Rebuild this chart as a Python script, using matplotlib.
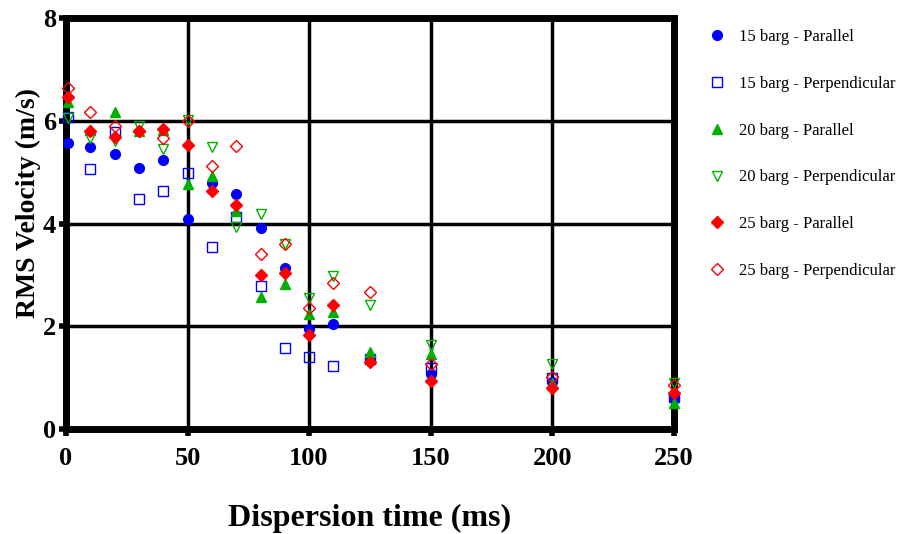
import matplotlib.pyplot as plt

plt.rcParams['font.family'] = ['Liberation Serif', 'DejaVu Serif']

time_ms = [1, 10, 20, 30, 40, 50, 60, 70, 80, 90, 100, 110, 125, 150, 200, 250]

b15_par = [5.57, 5.49, 5.35, 5.09, 5.23, 4.09, 4.79, 4.58, 3.92, 3.13, 1.94, 2.04, 1.35, 1.08, 0.92, 0.60]
b15_perp = [6.07, 5.07, 5.79, 4.47, 4.63, 4.99, 3.55, 4.13, 2.79, 1.58, 1.41, 1.23, 1.36, 1.18, 1.00, 0.62]
b20_par = [6.36, 5.82, 6.18, 5.80, 5.82, 4.77, 4.92, 4.25, 2.57, 2.83, 2.24, 2.28, 1.49, 1.47, 0.89, 0.50]
b20_perp = [6.05, 5.67, 5.60, 5.89, 5.46, 6.02, 5.50, 3.93, 4.19, 3.61, 2.56, 2.98, 2.41, 1.63, 1.27, 0.90]
b25_par = [6.47, 5.80, 5.69, 5.80, 5.84, 5.52, 4.64, 4.37, 3.00, 3.04, 1.83, 2.41, 1.31, 0.93, 0.79, 0.70]
b25_perp = [6.64, 6.18, 5.89, 5.80, 5.67, 5.99, 5.12, 5.51, 3.41, 3.60, 2.35, 2.85, 2.66, 1.26, 1.01, 0.85]

blue = '#0000FF'
green = '#00B000'
red = '#FF0000'

fig = plt.figure(figsize=(9.13, 5.34), dpi=100)
ax = fig.add_axes([0.0723, 0.1966, 0.6657, 0.7695])

kw = dict(linestyle='none', clip_on=False, zorder=3)
ax.plot(time_ms, b15_par, marker='o', ms=7, color=blue, label='15 barg - Parallel', **kw)
ax.plot(time_ms, b15_perp, marker='s', ms=7, mfc='none', mec=blue, mew=1, label='15 barg - Perpendicular', **kw)
ax.plot(time_ms, b20_par, marker='^', ms=7.5, color=green, label='20 barg - Parallel', **kw)
ax.plot(time_ms, b20_perp, marker='v', ms=7.5, mfc='none', mec=green, mew=1, label='20 barg - Perpendicular', **kw)
ax.plot(time_ms, b25_par, marker='D', ms=6, color=red, label='25 barg - Parallel', **kw)
ax.plot(time_ms, b25_perp, marker='D', ms=6, mfc='none', mec=red, mew=1, label='25 barg - Perpendicular', **kw)

ax.set_xlim(0, 250)
ax.set_ylim(0, 8)
ax.set_xticks([0, 50, 100, 150, 200, 250])
ax.set_yticks([0, 2, 4, 6, 8])
ax.grid(True, color='black', linewidth=2.5)
ax.set_axisbelow(True)
for s in ax.spines.values():
    s.set_linewidth(5)
ax.tick_params(width=4, length=5, labelsize=19)
ax.tick_params(axis='x', pad=8)
ax.tick_params(axis='y', pad=2)
for lbl in ax.get_xticklabels() + ax.get_yticklabels():
    lbl.set_fontweight('bold')

ax.set_xlabel('Dispersion time (ms)', fontsize=23, fontweight='bold')
ax.xaxis.set_label_coords(0.5, -0.2165)
ax.xaxis.label.set_verticalalignment('center')
ax.set_ylabel('RMS Velocity (m/s)', fontsize=20, fontweight='bold')
ax.yaxis.set_label_coords(-0.0625, 0.55)
ax.yaxis.label.set_verticalalignment('center')

ax.legend(loc='upper left', bbox_to_anchor=(1.045, 0.99), frameon=False,
          fontsize=12, labelspacing=1.85, handletextpad=0.8, handlelength=1.1,
          borderaxespad=0)

fig.savefig('out.png', dpi=100)
